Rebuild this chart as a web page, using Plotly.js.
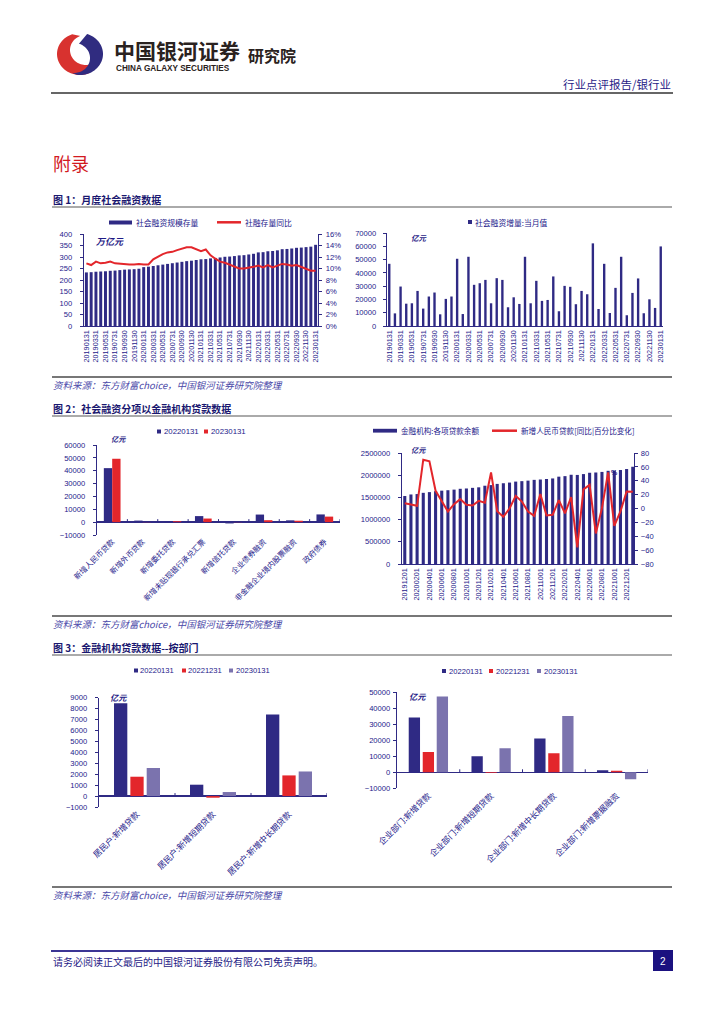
<!DOCTYPE html>
<html><head><meta charset="utf-8">
<script src="https://cdn.plot.ly/plotly-3.0.1.min.js"></script>
<style>html,body{margin:0;padding:0;background:#fff}#page{width:724px;height:1024px}</style>
</head><body><div id="page"></div>
<script>
// ---------- DATA ----------
const fig1Dates = ['20190131','20190228','20190331','20190430','20190531','20190630','20190731','20190831','20190930','20191031','20191130','20191231',
'20200131','20200229','20200331','20200430','20200531','20200630','20200731','20200831','20200930','20201031','20201130','20201231',
'20210131','20210228','20210331','20210430','20210531','20210630','20210731','20210831','20210930','20211031','20211130','20211231',
'20220131','20220228','20220331','20220430','20220531','20220630','20220731','20220831','20220930','20221031','20221130','20221231',
'20230131'];
const fig1Ticks = ['20190131','20190331','20190531','20190731','20190930','20191130','20200131','20200331','20200531','20200731','20200930','20201130',
'20210131','20210331','20210531','20210731','20210930','20211130','20220131','20220331','20220531','20220731','20220930','20221130','20230131'];
// 社会融资规模存量 (万亿元)
const fig1Stock = [233,234,236,237,238,240,241,243,245,246,247,249,
256,258,261,264,267,270,273,276,279,282,284,287,
290,291,294,296,298,301,302,304,307,308,311,314,
320,321,325,326,329,334,335,337,340,341,343,345,
353];
// 社融存量同比 (%)
const fig1Yoy = [10.9,10.6,11.2,10.9,11.0,11.2,10.9,10.8,10.7,10.7,10.7,10.8,
10.7,10.7,11.6,12.1,12.5,12.8,12.9,13.2,13.5,13.7,13.7,13.3,
13.0,13.3,12.3,11.7,11.2,11.0,10.7,10.4,10.0,10.0,10.1,10.3,
10.5,10.2,10.6,10.2,10.5,10.8,10.7,10.5,10.6,10.3,10.0,9.6,
9.6];
// 社会融资增量:当月值 (亿元)
const fig1Flow = [46800,9500,29700,16800,17100,26400,13100,22200,25200,8800,20400,22200,
50600,9000,52100,31000,32200,34700,17100,36000,34700,14100,21600,16600,
52100,17100,34000,18900,19600,37300,11100,30200,29500,16400,26400,23900,
62200,12800,46800,9800,28700,52100,8100,24900,35800,9600,20100,13600,
59900];

const fig2Cats = ['新增人民币贷款','新增外币贷款','新增委托贷款','新增未贴现银行承兑汇票','新增信托贷款','企业债券融资','非金融企业境内股票融资','政府债券'];
const fig2Jan22 = [42000,1200,600,4700,-1000,5900,1400,6000];
const fig2Jan23 = [49300,100,700,2800,100,1500,1100,4300];

const fig2Dates = ['20191201',
'20200101','20200201','20200301','20200401','20200501','20200601','20200701','20200801','20200901','20201001','20201101','20201201',
'20210101','20210201','20210301','20210401','20210501','20210601','20210701','20210801','20210901','20211001','20211101','20211201',
'20220101','20220201','20220301','20220401','20220501','20220601','20220701','20220801','20220901','20221001','20221101','20221201',
'20230101'];
const fig2Ticks = ['20191201','20200201','20200401','20200601','20200801','20201001','20201201','20210201','20210401','20210601',
'20210801','20211001','20211201','20220201','20220401','20220601','20220801','20221001','20221201'];
// 金融机构:各项贷款余额 (亿元)
const fig2Loans = [1531000,
1566000,1575000,1603000,1619000,1640000,1652000,1662000,1675000,1694000,1701000,1715000,1727000,
1763000,1777000,1804000,1819000,1834000,1856000,1866000,1878000,1895000,1903000,1915000,1927000,
1967000,1979000,2010000,2006000,2025000,2055000,2061000,2074000,2099000,2105000,2117000,2139000,
2190000];
// 新增人民币贷款[同比|百分比变化] (%)
const fig2Yoy = [7.7,5.3,3.9,70.4,68,25.5,11,-4.3,6.3,13.5,5.3,4.3,11,8.2,52,-3.9,-12,0,18.3,10,-4.3,-10.6,21,-10,-9,12,-7,16.4,-56,27.5,34,-36,0.5,52,-25,-4.3,24.6,24];

const fig3Cats = ['居民户:新增贷款','居民户:新增短期贷款','居民户:新增中长期贷款'];
const fig3HJan22 = [8500,1040,7470];
const fig3HDec22 = [1770,-150,1890];
const fig3HJan23 = [2570,370,2250];

const fig4Cats = ['企业部门:新增贷款','企业部门:新增短期贷款','企业部门:新增中长期贷款','企业部门:新增票据融资'];
const fig3CJan22 = [34200,10000,21200,1300];
const fig3CDec22 = [12700,-400,11900,1000];
const fig3CJan23 = [47300,15000,35200,-4400];

const seriesNames = ['20220131','20221231','20230131'];

// ---------- STYLE ----------
const W = 724, H = 1024;
const CJK = 'Noto Sans CJK SC';
const LAT = 'Liberation Sans';
const NAVY = '#2f2a84', TXT = '#24208a', RED = '#e3262b', LAV = '#7b73ae';

const dx = (a,b)=>[a/W,b/W];
const dy = (top,bot)=>[1-bot/H,1-top/H];
function L(x0,y0,x1,y1,color,width){return {type:'line',xref:'paper',yref:'paper',x0:x0/W,y0:1-y0/H,x1:x1/W,y1:1-y1/H,line:{color:color,width:width}};}
function R(x0,y0,x1,y1,color){return {type:'rect',xref:'paper',yref:'paper',x0:x0/W,y0:1-y0/H,x1:x1/W,y1:1-y1/H,line:{width:0},fillcolor:color};}
function T(text,x,y,o){o=o||{};return {text:text,xref:'paper',yref:'paper',x:x/W,y:1-y/H,xanchor:o.xa||'left',yanchor:o.ya||'middle',showarrow:false,borderpad:0,font:{family:o.f||CJK,size:o.s||8,color:o.c||TXT}};}
function ell(cx,cy,rx,ry,a0,a1,n){const p=[];for(let i=0;i<=n;i++){const a=(a0+(a1-a0)*i/n)*Math.PI/180;p.push([cx+rx*Math.cos(a),cy-ry*Math.sin(a)]);}return p;}
function P(pts,color){return {type:'path',xref:'paper',yref:'paper',path:'M'+pts.map(p=>(p[0]/W).toFixed(5)+','+(1-p[1]/H).toFixed(5)).join('L')+'Z',fillcolor:color,line:{width:0}};}

function yax(domain,range,dtick,extra){
  return Object.assign({domain:domain,range:range,dtick:dtick,tick0:0,showgrid:false,zeroline:false,showline:true,linecolor:NAVY,linewidth:1.2,
    ticks:'outside',ticklen:3,tickcolor:NAVY,tickformat:'d',
    tickfont:{family:LAT,size:7.6,color:TXT},fixedrange:true},extra||{});
}
function xdate(domain,anchor,range,ticks){
  return {domain:domain,anchor:anchor,type:'category',range:range,tickmode:'array',tickvals:ticks,ticktext:ticks,tickangle:-90,
    showline:true,linecolor:NAVY,linewidth:1.2,ticks:'',showgrid:false,zeroline:false,tickfont:{family:LAT,size:7.3,color:TXT},fixedrange:true};
}
function xcat(domain,anchor,n,size){
  return {domain:domain,anchor:anchor,type:'category',range:[-0.5,n-0.5],tickangle:-45,showline:false,ticks:'',showgrid:false,zeroline:false,
    tickfont:{family:CJK,size:size,color:TXT},fixedrange:true};
}

// ---------- TRACES ----------
const traces = [
  {type:'bar',x:fig1Dates,y:fig1Stock,xaxis:'x',yaxis:'y',marker:{color:NAVY},width:0.62,offset:-0.31,name:'社会融资规模存量'},
  {type:'scatter',mode:'lines',x:fig1Dates,y:fig1Yoy,xaxis:'x',yaxis:'y2',line:{color:RED,width:2},name:'社融存量同比'},
  {type:'bar',x:fig1Dates,y:fig1Flow,xaxis:'x2',yaxis:'y3',marker:{color:NAVY},width:0.42,offset:-0.21,name:'社会融资增量:当月值'},
  {type:'bar',x:fig2Cats,y:fig2Jan22,xaxis:'x3',yaxis:'y4',marker:{color:NAVY},width:0.275,offset:-0.275,name:'20220131'},
  {type:'bar',x:fig2Cats,y:fig2Jan23,xaxis:'x3',yaxis:'y4',marker:{color:RED},width:0.275,offset:0,name:'20230131'},
  {type:'bar',x:fig2Dates,y:fig2Loans,xaxis:'x4',yaxis:'y5',marker:{color:NAVY},width:0.5,offset:-0.25,name:'金融机构:各项贷款余额'},
  {type:'scatter',mode:'lines',x:fig2Dates,y:fig2Yoy,xaxis:'x4',yaxis:'y6',line:{color:RED,width:2},name:'新增人民币贷款[同比|百分比变化]'},
  {type:'bar',x:fig3Cats,y:fig3HJan22,xaxis:'x5',yaxis:'y7',marker:{color:NAVY},width:0.175,offset:-0.3025,name:seriesNames[0]},
  {type:'bar',x:fig3Cats,y:fig3HDec22,xaxis:'x5',yaxis:'y7',marker:{color:RED},width:0.175,offset:-0.0875,name:seriesNames[1]},
  {type:'bar',x:fig3Cats,y:fig3HJan23,xaxis:'x5',yaxis:'y7',marker:{color:LAV},width:0.175,offset:0.1275,name:seriesNames[2]},
  {type:'bar',x:fig4Cats,y:fig3CJan22,xaxis:'x6',yaxis:'y8',marker:{color:NAVY},width:0.18,offset:-0.313,name:seriesNames[0]},
  {type:'bar',x:fig4Cats,y:fig3CDec22,xaxis:'x6',yaxis:'y8',marker:{color:RED},width:0.18,offset:-0.09,name:seriesNames[1]},
  {type:'bar',x:fig4Cats,y:fig3CJan23,xaxis:'x6',yaxis:'y8',marker:{color:LAV},width:0.18,offset:0.133,name:seriesNames[2]}
];

// ---------- SHAPES ----------
const shapes = [];
// logo
shapes.push(P(ell(80,54,23,21,110,292,40).concat(ell(86,50,16,15,292,110,40)),'#d8322f'));
shapes.push(P(ell(80,54,23,21,72,-98,40).concat(ell(74,58,16,15,-98,72,40)),'#302c80'));
// page rules
shapes.push(L(51,93,673,93,'#333',1.5));
[207,416,655].forEach(y=>shapes.push(L(52,y,672,y,'#8e8e8e',1.5)));
[377,616,887].forEach(y=>shapes.push(L(52,y,672,y,'#4a4a4a',1.3)));
shapes.push(L(51,951,653,951,'#3b3594',2));
shapes.push(R(653,950,673,971,'#1b1180'));
// legend markers
shapes.push(R(109,220.5,132,224.5,NAVY));
shapes.push(L(217,222.3,241,222.3,RED,2.5));
shapes.push(R(468,220,472,224,NAVY));
shapes.push(R(157,429.5,161,433.5,NAVY));
shapes.push(R(204,429.5,208,433.5,RED));
shapes.push(R(373,428.8,397,432.6,NAVY));
shapes.push(L(492,430.7,517,430.7,RED,2.5));
shapes.push(R(134,668.5,138,672.5,NAVY));
shapes.push(R(182,668.5,186,672.5,RED));
shapes.push(R(229,668.5,233,672.5,LAV));
shapes.push(R(442,669,446,673,NAVY));
shapes.push(R(489,669,493,673,RED));
shapes.push(R(537,669,541,673,LAV));
// category boundary ticks on zero lines
function zt(xref,yref,n){for(let i=0;i<n;i++){shapes.push({type:'line',xref:xref,yref:yref,x0:i+0.5,x1:i+0.5,ysizemode:'pixel',yanchor:0,y0:0,y1:3,line:{color:NAVY,width:1}});}}
zt('x3','y4',8); zt('x5','y7',3); zt('x6','y8',4);

// ---------- TEXT ----------
const anns = [
  T('<b>中国银河证券</b>',113,50,{s:21,c:'#2a2220'}),
  T('<b>CHINA GALAXY SECURITIES</b>',115,68,{f:LAT,s:8.2,c:'#2a2220'}),
  T('<b>研究院</b>',247,55,{s:16,c:'#2a2220'}),
  T('行业点评报告/银行业',672,84,{xa:'right',s:11.5,c:'#1f1b86'}),
  T('附录',52,163,{s:18,c:'#d21a1f'}),
  T('<b>图 1：月度社会融资数据</b>',52,199,{s:10,c:'#1a1870'}),
  T('<i>资料来源：东方财富choice，中国银河证券研究院整理</i>',52,385,{s:9.5,c:'#4a48a8'}),
  T('<b>图 2：社会融资分项以金融机构贷款数据</b>',52,408,{s:10,c:'#1a1870'}),
  T('<i>资料来源：东方财富choice，中国银河证券研究院整理</i>',52,624,{s:9.5,c:'#4a48a8'}),
  T('<b>图 3：金融机构贷款数据--按部门</b>',52,647,{s:10,c:'#1a1870'}),
  T('<i>资料来源：东方财富choice，中国银河证券研究院整理</i>',52,895,{s:9.5,c:'#4a48a8'}),
  T('请务必阅读正文最后的中国银河证券股份有限公司免责声明。',52,961,{s:10,c:'#1f1b86'}),
  T('2',663,961,{xa:'center',f:LAT,s:10,c:'#ffffff'}),
  // legends
  T('社会融资规模存量',135,222,{s:7.8}),
  T('社融存量同比',244,222,{s:7.8}),
  T('社会融资增量:当月值',474,222,{s:7.8}),
  T(seriesNames[0],163,431.5,{f:LAT,s:7.8}),
  T(seriesNames[2],210,431.5,{f:LAT,s:7.8}),
  T('金融机构:各项贷款余额',400,430.7,{s:7.6}),
  T('新增人民币贷款[同比|百分比变化]',520,430.7,{s:7.6}),
  T(seriesNames[0],139,670.5,{f:LAT,s:7.6}),
  T(seriesNames[1],187,670.5,{f:LAT,s:7.6}),
  T(seriesNames[2],235,670.5,{f:LAT,s:7.6}),
  T(seriesNames[0],448,671,{f:LAT,s:7.6}),
  T(seriesNames[1],495,671,{f:LAT,s:7.6}),
  T(seriesNames[2],543,671,{f:LAT,s:7.6}),
  // units
  T('<b><i>万亿元</i></b>',95,241,{s:9,c:'#1f1b86'}),
  T('<b><i>亿元</i></b>',410,237,{s:7.5,c:'#1f1b86'}),
  T('<b><i>亿元</i></b>',110,439,{s:7.2,c:'#1f1b86'}),
  T('<b><i>亿元</i></b>',410,450,{s:7.2,c:'#1f1b86'}),
  T('<b>%</b>',610,472,{f:LAT,s:7,c:'#1f1b86'}),
  T('<b><i>亿元</i></b>',109,697,{s:8.2,c:'#1f1b86'}),
  T('<b><i>亿元</i></b>',408,696,{s:8.2,c:'#1f1b86'})
];

// ---------- LAYOUT ----------
const layout = {
  width:W,height:H,margin:{l:0,r:0,t:0,b:0},paper_bgcolor:'#fff',plot_bgcolor:'rgba(0,0,0,0)',
  showlegend:false,barmode:'overlay',font:{family:LAT+', '+CJK,color:TXT},
  xaxis:xdate(dx(84,318),'y',[-0.5,48.5],fig1Ticks),
  yaxis:yax(dy(234,326),[0,400],50,{anchor:'x',ticklabelstandoff:6}),
  yaxis2:yax(dy(234,326),[0,16],2,{anchor:'x',overlaying:'y',side:'right',ticksuffix:'%',ticklabelstandoff:2}),
  xaxis2:xdate(dx(387,663),'y3',[-0.4,48.4],fig1Ticks),
  yaxis3:yax(dy(233,326),[0,70000],10000,{anchor:'x2',ticklabelstandoff:5}),
  xaxis3:xcat(dx(97,340),'y4',8,7.6),
  yaxis4:yax(dy(445,535),[-10000,60000],10000,{anchor:'x3',zeroline:true,zerolinecolor:NAVY,zerolinewidth:1.3,ticklabelstandoff:6}),
  xaxis4:xdate(dx(402,634),'y5',[-0.45,37.2],fig2Ticks),
  yaxis5:yax(dy(453,564),[0,2500000],500000,{anchor:'x4',ticklabelstandoff:6}),
  yaxis6:yax(dy(453,564),[-80,80],20,{anchor:'x4',overlaying:'y5',side:'right',ticklabelstandoff:1}),
  xaxis5:xcat(dx(99,327),'y7',3,8.4),
  yaxis7:yax(dy(697.7,807),[-1000,9000],1000,{anchor:'x5',zeroline:true,zerolinecolor:NAVY,zerolinewidth:1.3,ticklabelstandoff:6}),
  xaxis6:xcat(dx(397,648),'y8',4,8.4),
  yaxis8:yax(dy(692.3,788.3),[-10000,50000],10000,{anchor:'x6',zeroline:true,zerolinecolor:NAVY,zerolinewidth:1.3,ticklabelstandoff:1}),
  shapes:shapes,annotations:anns
};

Plotly.newPlot('page',traces,layout,{staticPlot:true,displayModeBar:false});
</script>
</body></html>
